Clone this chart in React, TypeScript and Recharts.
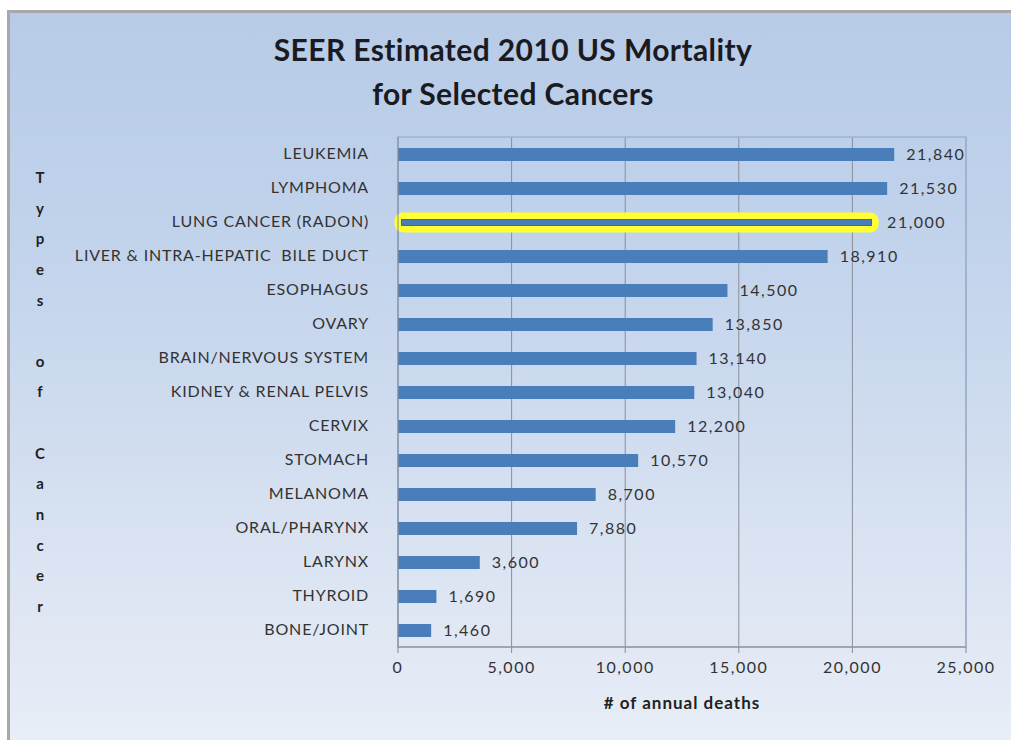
import React from 'react';
import { BarChart, Bar, XAxis, YAxis, CartesianGrid, LabelList, ReferenceArea } from 'recharts';

const cancerTypes = [
  'LEUKEMIA',
  'LYMPHOMA',
  'LUNG CANCER (RADON)',
  'LIVER & INTRA-HEPATIC  BILE DUCT',
  'ESOPHAGUS',
  'OVARY',
  'BRAIN/NERVOUS SYSTEM',
  'KIDNEY & RENAL PELVIS',
  'CERVIX',
  'STOMACH',
  'MELANOMA',
  'ORAL/PHARYNX',
  'LARYNX',
  'THYROID',
  'BONE/JOINT',
];

const annualDeaths = [21840, 21530, 21000, 18910, 14500, 13850, 13140, 13040, 12200, 10570, 8700, 7880, 3600, 1690, 1460];

const xTicks = [0, 5000, 10000, 15000, 20000, 25000];

const highlighted = 'LUNG CANCER (RADON)';
const yAxisTitle = 'Types of Cancer';

const data = cancerTypes.map((name, i) => ({ name, deaths: annualDeaths[i] }));

const FONT = 'Lato, "Open Sans", sans-serif';
const fmt = (v: number) => v.toLocaleString('en-US');

const CategoryTick = (props: any) => {
  const { x, y, payload } = props;
  return (
    <text
      x={x - 21}
      y={y}
      dy={5}
      textAnchor="end"
      fill="#333"
      fontSize={16}
      fontFamily={FONT}
      letterSpacing={0.8}
      style={{ whiteSpace: 'pre' }}
    >
      {payload.value}
    </text>
  );
};

// the lung cancer bar gets the yellow highlight ring
const BarShape = (props: any) => {
  const { x, y, width, height, payload } = props;
  if (payload && payload.name === highlighted) {
    return (
      <g>
        <rect x={x} y={y} width={width} height={height} fill="#4a7ebb" stroke="#ffff33" strokeWidth={7} rx={5} ry={5} />
        <rect x={x + 3.5} y={y + 3.5} width={width - 7} height={height - 7} fill="#4a7ebb" stroke="#5a5a4a" strokeWidth={0.8} />
      </g>
    );
  }
  return <rect x={x} y={y} width={width} height={height} fill="#4a7ebb" />;
};

const YTitle = () => (
  <text x={40} y={183} textAnchor="middle" fill="#222" fontSize={15} fontWeight="bold" fontFamily={FONT}>
    {yAxisTitle.split('').map((ch, i) => (
      <tspan key={i} x={40} y={183 + i * 30.64}>
        {ch === ' ' ? '\u00a0' : ch}
      </tspan>
    ))}
  </text>
);

const XTitle = (props: any) => {
  const { viewBox } = props;
  return (
    <text
      x={viewBox.x + viewBox.width / 2}
      y={709}
      textAnchor="middle"
      fill="#222"
      fontSize={17}
      fontWeight="bold"
      letterSpacing={1}
      fontFamily={FONT}
    >
      # of annual deaths
    </text>
  );
};

export default function App() {
  return (
    <div style={{ position: 'absolute', left: 0, top: 0, width: 1011, height: 740, background: '#fff', overflow: 'hidden' }}>
      <div
        style={{
          position: 'absolute',
          left: 7,
          top: 10,
          width: 1010,
          height: 740,
          borderLeft: '3px solid #a8a8a8',
          borderTop: '3px solid #a8a8a8',
          background: 'linear-gradient(to bottom, #b7cbe7 0%, #c3d4ec 35%, #dbe4f2 75%, #e9eef7 100%)',
        }}
      />
      <div
        style={{
          position: 'absolute',
          left: 0,
          top: 27,
          width: 1026,
          textAlign: 'center',
          fontFamily: FONT,
          fontWeight: 'bold',
          fontSize: 30,
          letterSpacing: 0.4,
          lineHeight: '44px',
          color: '#1a1a22',
        }}
      >
        SEER Estimated 2010 US Mortality
        <br />
        for Selected Cancers
      </div>
      <div style={{ position: 'absolute', left: 0, top: 0 }}>
        <BarChart width={1011} height={740} data={data} layout="vertical" margin={{ top: 137, right: 45, bottom: 0, left: 0 }}>
          <ReferenceArea x1={0} x2={25000} fill="none" stroke="#9fb3d1" strokeWidth={1.5} ifOverflow="extendDomain" />
          <CartesianGrid horizontal={false} stroke="#8a8f99" strokeWidth={1} />
          <XAxis
            type="number"
            domain={[0, 25000]}
            ticks={xTicks}
            tickFormatter={fmt}
            height={93}
            stroke="#8a8f99"
            tickSize={6}
            tickMargin={9}
            tick={{ fill: '#333', fontSize: 16, fontFamily: FONT, letterSpacing: 1.5 }}
            label={{ content: XTitle }}
          />
          <YAxis
            type="category"
            dataKey="name"
            width={398}
            axisLine={{ stroke: '#8a8f99' }}
            tickLine={false}
            tick={CategoryTick}
            interval={0}
            label={{ content: YTitle }}
          />
          <Bar dataKey="deaths" barSize={13} isAnimationActive={false} shape={BarShape}>
            <LabelList
              dataKey="deaths"
              position="right"
              offset={12}
              formatter={fmt}
              fill="#333"
              fontSize={16}
              letterSpacing={1.5}
              fontFamily={FONT}
            />
          </Bar>
        </BarChart>
      </div>
    </div>
  );
}
